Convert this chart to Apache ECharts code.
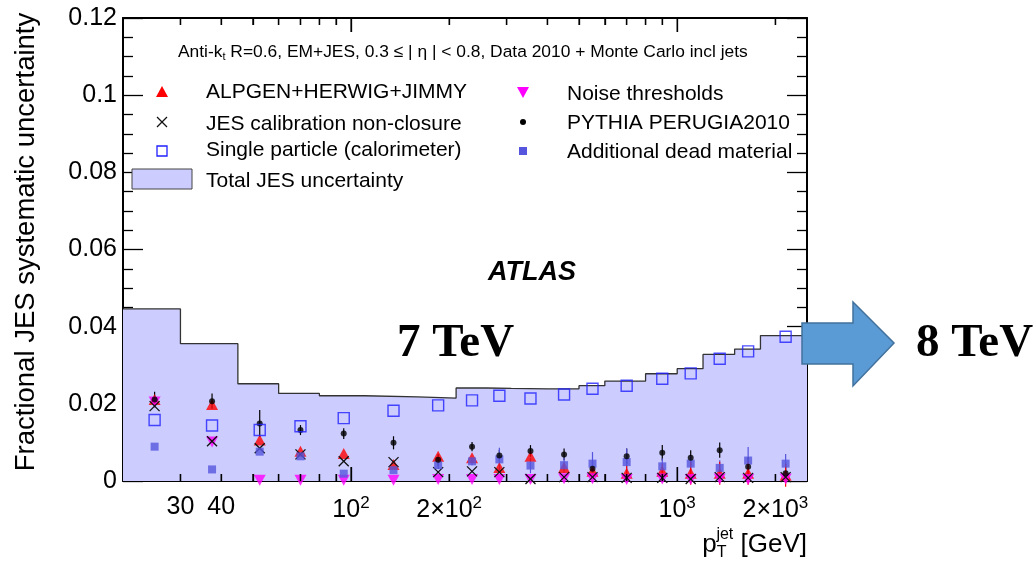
<!DOCTYPE html>
<html>
<head>
<meta charset="utf-8">
<script src="https://cdn.jsdelivr.net/npm/echarts@6/dist/echarts.min.js"></script>
<style>
html, body { margin: 0; padding: 0; background: #ffffff; }
#chart { width: 1033px; height: 562px; }
</style>
</head>
<body>
<div id="chart"></div>
<script>
// pT bin edges and bin centres [GeV]
const binEdges = [20, 30, 45, 60, 80, 110, 160, 210, 260, 310, 400, 500, 600, 800, 1000, 1200, 1500, 1800, 2500];
const binCenters = [25, 37.5, 52.5, 70, 95, 135, 185, 235, 285, 355, 450, 550, 700, 900, 1100, 1350, 1650, 2150];

// Total JES uncertainty per bin
const totalJES = [0.0446, 0.0356, 0.0252, 0.0227, 0.0221, 0.0218, 0.0215, 0.0241, 0.0240, 0.0239, 0.0239, 0.0247, 0.0259, 0.0278, 0.0291, 0.0328, 0.0342, 0.0377];

// Individual uncertainty components
const alpgenHerwig = [0.0211, 0.0198, 0.0106, 0.0077, 0.0071, 0.0043, 0.0064, 0.0060, 0.0035, 0.0064, 0.0035, 0.0025, 0.0020, 0.0025, 0.0020, 0.0020, 0.0020, 0.0015];
const alpgenErr = [0, 0, 0, 0, 0, 0, 0, 0, 0, 0, 0, 0, 0.002, 0.002, 0.003, 0.003, 0.003, 0.003];
const jesNonClosure = [0.0194, 0.0103, 0.0085, 0.0069, 0.0051, 0.0049, 0.0023, 0.0025, 0.0023, 0.0005, 0.0010, 0.0010, 0.0008, 0.0008, 0.0005, 0.0010, 0.0008, 0.0010];
const singleParticle = [0.0158, 0.0144, 0.0132, 0.0142, 0.0163, 0.0182, 0.0196, 0.0209, 0.0221, 0.0214, 0.0224, 0.0239, 0.0247, 0.0265, 0.0279, 0.0317, 0.0336, 0.0374];
const noiseThresholds = [0.0205, 0.0101, 0.0002, 0.0002, 0.0002, 0.0002, 0.0004, 0.0004, 0.0004, 0.0004, 0.0006, 0.0006, 0.0004, 0.0005, 0.0004, 0.0005, 0.0004, 0.0005];
const pythiaPerugia = [0.0211, 0.0207, 0.0149, 0.0132, 0.0123, 0.0099, 0.0055, 0.0089, 0.0066, 0.0078, 0.0069, 0.0032, 0.0064, 0.0073, 0.0060, 0.0080, 0.0037, 0.0020];
const pythiaErr = [0.0020, 0.0020, 0.0035, 0.0013, 0.0014, 0.0017, 0.0015, 0.0012, 0.0015, 0.0015, 0.0015, 0.0020, 0.0020, 0.0020, 0.0020, 0.0020, 0.0025, 0.0025];
const deadMaterial = [0.0089, 0.0030, 0.0076, 0.0064, 0.0019, 0.0028, 0.0041, 0.0051, 0.0056, 0.0040, 0.0041, 0.0045, 0.0049, 0.0038, 0.0045, 0.0034, 0.0053, 0.0045];
const deadMaterialErr = [0, 0, 0, 0, 0, 0, 0.0010, 0.0010, 0.0030, 0.0020, 0.0020, 0.0030, 0.0035, 0.0020, 0.0020, 0.0020, 0.0035, 0.0025];

// Axis ticks and labels
const xMajorTicks = [100, 1000];
const xMinorTicks = [30, 40, 50, 60, 70, 80, 90, 200, 300, 400, 500, 600, 700, 800, 900, 2000];
const xTickLabels = [30, 40, 100, 200, 1000, 2000];
const xMin = 20, xMax = 2500;
const yMin = 0, yMax = 0.12, yStep = 0.02;

const chart = echarts.init(document.getElementById('chart'), null, { renderer: 'canvas' });

const FONT = 'Liberation Sans, Arial, Helvetica, sans-serif';
const SERIF = 'Liberation Serif, Times New Roman, serif';

// plot height in pixels, used to express tick lengths in y-axis units
const PLOT_H = 562 - 18 - 81;

function pairs(vals) { return binCenters.map((x, i) => [x, vals[i]]); }

function stepData() {
  const d = [];
  totalJES.forEach((v, i) => { d.push([binEdges[i], v]); d.push([binEdges[i + 1], v]); });
  return d;
}

function fmtX(v) {
  if (v === 100) return '10{sup|2}';
  if (v === 1000) return '10{sup|3}';
  if (v === 200) return '2×10{sup|2}';
  if (v === 2000) return '2×10{sup|3}';
  return String(v);
}

// frame tick segments on bottom and top edges, pointing into the plot
function tickSegments() {
  const segs = [];
  const add = (v, px) => {
    const dy = px * (yMax - yMin) / PLOT_H;
    segs.push([{ coord: [v, yMin] }, { coord: [v, yMin + dy] }]);
    segs.push([{ coord: [v, yMax] }, { coord: [v, yMax - dy] }]);
  };
  xMinorTicks.forEach(v => add(v, 7));
  xMajorTicks.forEach(v => add(v, 14));
  return segs;
}

// same ticks as thin bar symbols, anchored on the edge values
function tickMarks(ticks, yEdge, len, dir) {
  return {
    type: 'scatter',
    silent: true,
    z: 20,
    data: ticks.map(v => [v, yEdge]),
    symbol: 'rect',
    symbolSize: [1.4, len],
    symbolOffset: [0, dir * len / 2],
    itemStyle: { color: '#000' }
  };
}

function errorSeries(vals, errs, color, z) {
  const data = binCenters.map((x, i) => [x, vals[i] - errs[i], vals[i] + errs[i]]).filter((d, i) => errs[i] > 0);
  return {
    type: 'custom',
    silent: true,
    z: z,
    data: data,
    encode: { x: 0, y: [1, 2] },
    renderItem: function (params, api) {
      const lo = api.coord([api.value(0), api.value(1)]);
      const hi = api.coord([api.value(0), api.value(2)]);
      return { type: 'line', shape: { x1: lo[0], y1: lo[1], x2: hi[0], y2: hi[1] }, style: { stroke: color, lineWidth: 1.2 } };
    }
  };
}

// crosses for the non-closure component
function crossSeries(vals) {
  return {
    type: 'custom',
    silent: true,
    z: 5,
    data: pairs(vals),
    encode: { x: 0, y: 1 },
    renderItem: function (params, api) {
      const p = api.coord([api.value(0), api.value(1)]);
      const s = 5;
      const st = { stroke: '#111', lineWidth: 1.3 };
      return {
        type: 'group',
        children: [
          { type: 'line', shape: { x1: p[0] - s, y1: p[1] - s, x2: p[0] + s, y2: p[1] + s }, style: st },
          { type: 'line', shape: { x1: p[0] - s, y1: p[1] + s, x2: p[0] + s, y2: p[1] - s }, style: st }
        ]
      };
    }
  };
}

// in-plot legend
function legendGraphics() {
  const g = [];
  const txt = (x, y, s) => ({ type: 'text', left: x, top: y - 8, style: { text: s, font: '21px ' + FONT, fill: '#000' }, z: 100 });
  const lx = 162, rx = 523, rowY = [92, 122, 151, 179];
  g.push({ type: 'polygon', shape: { points: [[lx, rowY[0] - 6], [lx - 6, rowY[0] + 5], [lx + 6, rowY[0] + 5]] }, style: { fill: '#ff0000' }, z: 100 });
  g.push(txt(206, rowY[0] - 2, 'ALPGEN+HERWIG+JIMMY'));
  g.push({ type: 'line', shape: { x1: lx - 5, y1: rowY[1] - 5, x2: lx + 5, y2: rowY[1] + 5 }, style: { stroke: '#111', lineWidth: 1.3 }, z: 100 });
  g.push({ type: 'line', shape: { x1: lx - 5, y1: rowY[1] + 5, x2: lx + 5, y2: rowY[1] - 5 }, style: { stroke: '#111', lineWidth: 1.3 }, z: 100 });
  g.push(txt(206, rowY[1], 'JES calibration non-closure'));
  g.push({ type: 'rect', shape: { x: lx - 5, y: rowY[2] - 5, width: 10, height: 10 }, style: { fill: 'none', stroke: '#2020ff', lineWidth: 1.3 }, z: 100 });
  g.push(txt(206, rowY[2] - 3, 'Single particle (calorimeter)'));
  g.push({ type: 'rect', shape: { x: 132, y: 169, width: 60, height: 20 }, style: { fill: '#ccccff', stroke: '#444', lineWidth: 1 }, z: 100 });
  g.push(txt(206, rowY[3], 'Total JES uncertainty'));
  g.push({ type: 'polygon', shape: { points: [[rx, rowY[0] + 6], [rx - 6, rowY[0] - 5], [rx + 6, rowY[0] - 5]] }, style: { fill: '#ff00ff' }, z: 100 });
  g.push(txt(567, rowY[0], 'Noise thresholds'));
  g.push({ type: 'circle', shape: { cx: rx, cy: rowY[1], r: 3 }, style: { fill: '#000' }, z: 100 });
  g.push(txt(567, rowY[1] - 1, 'PYTHIA PERUGIA2010'));
  g.push({ type: 'rect', shape: { x: rx - 4, y: rowY[2] - 4, width: 8, height: 8 }, style: { fill: '#5555dd' }, z: 100 });
  g.push(txt(567, rowY[2] - 1, 'Additional dead material'));
  return g;
}

function annotationGraphics() {
  return [
    {
      type: 'text', x: 26, y: 242, rotation: Math.PI / 2, z: 100,
      style: { text: 'Fractional JES systematic uncertainty', font: '27.5px ' + FONT, fill: '#000', align: 'center', verticalAlign: 'middle' }
    },
    {
      type: 'text', left: 178, top: 44, z: 100,
      style: {
        text: 'Anti-k{s|t} R=0.6, EM+JES, 0.3 ≤ | η | < 0.8, Data 2010 + Monte Carlo incl jets',
        font: '17.4px ' + FONT, fill: '#000',
        rich: { s: { fontSize: 11, fontFamily: FONT, fill: '#000', padding: [9, 0, 0, 0] } }
      }
    },
    { type: 'text', left: 488, top: 259, z: 100, style: { text: 'ATLAS', font: 'italic bold 27px ' + FONT, fill: '#000' } },
    { type: 'text', left: 397, top: 320, z: 100, style: { text: '7 TeV', font: 'bold 47px ' + SERIF, fill: '#000' } },
    {
      type: 'polygon', z: 100,
      shape: { points: [[802, 323], [853, 323], [853, 302], [894, 343], [853, 386], [853, 364], [802, 364]] },
      style: { fill: '#5b9bd5', stroke: '#41719c', lineWidth: 1.5 }
    },
    { type: 'text', left: 916, top: 320, z: 100, style: { text: '8 TeV', font: 'bold 47px ' + SERIF, fill: '#000' } }
  ];
}

const option = {
  animation: false,
  backgroundColor: '#ffffff',
  grid: { left: 123, right: 226, top: 18, bottom: 81, containLabel: false },
  xAxis: [{
    type: 'log',
    logBase: 10,
    min: xMin,
    max: xMax,
    position: 'bottom',
    axisLine: { show: true, onZero: false, lineStyle: { color: '#000', width: 2 } },
    axisTick: { show: false },
    splitLine: { show: false },
    axisLabel: {
      customValues: xTickLabels,
      margin: 14,
      formatter: fmtX,
      color: '#000',
      fontFamily: FONT,
      fontSize: 25,
      verticalAlign: 'top',
      rich: {
        sup: { fontSize: 17, fontFamily: FONT, color: '#000', padding: [0, 0, 14, 0] }
      }
    },
    name: 'p{sub|T}{supx|jet} [GeV]',
    nameLocation: 'end',
    nameGap: 0,
    nameTextStyle: {
      fontFamily: FONT, fontSize: 26, color: '#000', align: 'right', verticalAlign: 'top',
      padding: [46, 0, 0, 0],
      rich: {
        sub: { fontSize: 16, fontFamily: FONT, color: '#000', padding: [16, 0, 0, 0] },
        supx: { fontSize: 16, fontFamily: FONT, color: '#000', padding: [0, 0, 20, -10] }
      }
    }
  }, {
    type: 'log',
    logBase: 10,
    min: xMin,
    max: xMax,
    position: 'top',
    axisLine: { show: true, onZero: false, lineStyle: { color: '#000', width: 2 } },
    axisTick: { show: false },
    axisLabel: { show: false },
    splitLine: { show: false }
  }],
  yAxis: [{
    type: 'value',
    min: yMin,
    max: yMax,
    interval: yStep,
    position: 'left',
    axisLine: { show: true, onZero: false, lineStyle: { color: '#000', width: 2 } },
    axisTick: { show: true, inside: true, length: 20, lineStyle: { color: '#000', width: 1.3 } },
    minorTick: { show: true, splitNumber: 4, length: 10, lineStyle: { color: '#000', width: 1.3 } },
    splitLine: { show: false },
    axisLabel: { color: '#000', fontFamily: FONT, fontSize: 25, margin: 6 }
  }, {
    type: 'value',
    min: yMin,
    max: yMax,
    interval: yStep,
    position: 'right',
    axisLine: { show: true, onZero: false, lineStyle: { color: '#000', width: 2 } },
    axisTick: { show: true, inside: true, length: 20, lineStyle: { color: '#000', width: 1.3 } },
    minorTick: { show: true, splitNumber: 4, length: 10, lineStyle: { color: '#000', width: 1.3 } },
    splitLine: { show: false },
    axisLabel: { show: false }
  }],
  series: [
    {
      name: 'Total JES uncertainty',
      type: 'line',
      data: stepData(),
      symbol: 'none',
      z: 1,
      lineStyle: { color: '#333', width: 1.3 },
      areaStyle: { color: '#ccccff', opacity: 1, origin: 'start' },
      silent: true
    },
    tickMarks(xMinorTicks, yMin, 7, -1),
    tickMarks(xMajorTicks, yMin, 14, -1),
    tickMarks(xMinorTicks, yMax, 7, 1),
    tickMarks(xMajorTicks, yMax, 14, 1),
    errorSeries(pythiaPerugia, pythiaErr, '#000', 3),
    errorSeries(deadMaterial, deadMaterialErr, '#5555dd', 3),
    errorSeries(alpgenHerwig, alpgenErr, '#ff0000', 3),
    {
      name: 'ALPGEN+HERWIG+JIMMY', type: 'scatter', data: pairs(alpgenHerwig),
      symbol: 'triangle', symbolSize: [12, 11], itemStyle: { color: '#ff0000' }, z: 4, silent: true
    },
    crossSeries(jesNonClosure),
    {
      name: 'Noise thresholds', type: 'scatter', data: pairs(noiseThresholds),
      symbol: 'triangle', symbolRotate: 180, symbolSize: [12, 11], itemStyle: { color: '#ff00ff' }, z: 4, silent: true
    },
    {
      name: 'Additional dead material', type: 'scatter', data: pairs(deadMaterial),
      symbol: 'rect', symbolSize: 8, itemStyle: { color: '#5555dd' }, z: 5, silent: true
    },
    {
      name: 'PYTHIA PERUGIA2010', type: 'scatter', data: pairs(pythiaPerugia),
      symbol: 'circle', symbolSize: 6, itemStyle: { color: '#000' }, z: 6, silent: true
    },
    {
      name: 'Single particle (calorimeter)', type: 'scatter', data: pairs(singleParticle),
      symbol: 'rect', symbolSize: 11, itemStyle: { color: 'rgba(0,0,0,0)', borderColor: '#2020ff', borderWidth: 1.4 }, z: 7, silent: true,
      markLine: {
        silent: true,
        symbol: ['none', 'none'],
        label: { show: false },
        animation: false,
        lineStyle: { color: '#000', width: 1.3, type: 'solid' },
        data: tickSegments()
      }
    }
  ],
  graphic: legendGraphics().concat(annotationGraphics())
};

chart.setOption(option);
</script>
</body>
</html>
